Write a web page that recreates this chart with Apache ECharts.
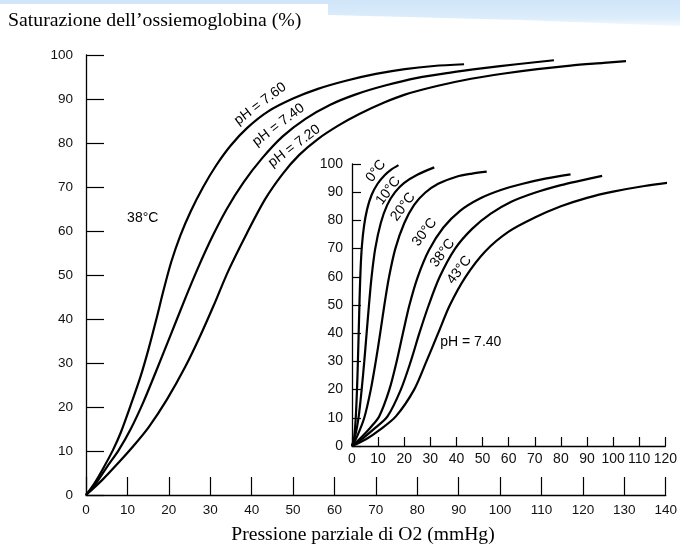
<!DOCTYPE html>
<html><head><meta charset="utf-8">
<script src="https://cdn.jsdelivr.net/npm/echarts@6/dist/echarts.min.js"></script>
<style>html,body{margin:0;padding:0;background:#fff}#c{width:680px;height:544px}</style>
</head><body><div id="c"></div>
<script>
// ---- Data ----
const titleText = 'Saturazione dell\u2019ossiemoglobina (%)';
const xAxisTitle = 'Pressione parziale di O2 (mmHg)';

// Main chart: O2 saturation (%) vs PO2 (mmHg) at 38°C for three pH values
const ph760 = [[0,0],[2,2.6],[4,5.8],[6.5,10.2],[8.4,14.2],[11.2,21.5],[13.2,27],[15.2,33.5],[17,40],[18.8,46.8],[20.6,53],[22.8,59],[25.3,64.5],[28.3,70],[31.5,75],[35,79.5],[39,83.5],[44,87.2],[50,90.1],[56,92.3],[63,94.2],[70,95.7],[77,96.8],[84,97.5],[91.3,97.9]];
const ph740 = [[0,0],[2.5,2.8],[5,6.3],[7.9,10.2],[10.8,15],[13.8,21],[17,28.3],[20.5,36.5],[23.8,44.3],[27,51.5],[30.4,58.5],[34,65],[38,71],[42.5,76.5],[47.5,81.5],[53,85.5],[59,88.7],[65,91],[72,93],[80,94.8],[88,96],[96,97],[104,97.9],[113,98.8]];
const ph720 = [[0,0],[4,3.5],[8,7.5],[11.5,11.2],[15.2,15.5],[19.6,21.8],[24,29.2],[27.6,36.2],[30.8,43],[34.4,51],[38.8,59.4],[43.3,67.3],[47.5,73],[51.5,77.3],[56,80.9],[61,84],[66,86.6],[72,89.2],[77,91],[85,93],[93,94.6],[101,95.8],[109,96.8],[117,97.6],[125,98.2],[130.4,98.6]];

// Inset: pH 7.40 at different temperatures
const t0  = [[0,0],[0.8,3],[1.3,8],[1.7,15],[2.1,25],[2.5,38],[2.9,52],[3.3,63],[3.8,71],[4.6,78],[5.8,84],[7.5,89],[9.8,93],[12.5,96],[15,98],[17.8,99.6]];
const t10 = [[0,0],[1.2,3.5],[2.5,10],[3.7,20],[4.7,30],[5.6,40],[6.5,50],[7.5,60],[8.9,70],[11,79],[13.5,85.5],[16.5,90],[20,93.3],[25,96.2],[31.5,98.8]];
const t20 = [[0,0],[2,3.5],[4.7,10],[7.2,20],[9.1,30],[10.8,40],[12.4,50],[14.2,60],[16.6,70],[20,79],[23.8,85.5],[28,89.8],[33,93],[40,95.5],[46,96.6],[51.6,97.3]];
const t30 = [[0,0],[3.5,3],[7,6.5],[10.4,10.5],[14.3,20],[17.1,30],[19.5,40],[22,50],[25.2,60],[29.5,69.5],[35,77.5],[41.5,83.5],[49,87.8],[57,90.8],[65,92.9],[74,94.8],[83.7,96.3]];
const t38 = [[0,0],[4.5,3],[9,6.5],[13.6,10.5],[18.7,20],[22.5,30],[25.8,40],[29.4,50],[33.6,60],[39.5,70],[46,77],[53,82.3],[61,86.6],[70,89.8],[80,92.5],[88,94.2],[95.8,95.8]];
const t43 = [[0,0],[5.5,2.5],[11,6],[16.8,10.5],[23.8,20],[28.5,30],[33,40],[37.5,50],[43.5,60],[51,69],[60,76],[70,81],[80,85],[90,88],[100,90.2],[112,92.2],[123.8,93.7]];

// Curve labels: [text, x, y, angleDeg]
const mainLabels = [['pH = 7.60', 42.1, 88.9, 37], ['pH = 7.40', 46.5, 84.1, 37], ['pH = 7.20', 50.3, 79.3, 37], ['38°C', 13.7, 63, 0]];
const insetLabels = [['0°C', 9.2, 97.5, 53], ['10°C', 13.9, 90.5, 53], ['20°C', 19.6, 84.8, 53], ['30°C', 27.8, 75.8, 53], ['38°C', 34.7, 68.4, 53], ['43°C', 41.1, 62.4, 53], ['pH = 7.40', 45.5, 36.8, 0]];

// ---- Chart ----
const chart = echarts.init(document.getElementById('c'), null, {renderer: 'canvas'});
const sansFont = '"Liberation Sans", Arial, sans-serif';
const serifFont = '"Liberation Serif", "Times New Roman", serif';
function axisCommon(min, max, tickLen, margin, fs) {
  return {
    type: 'value', min: min, max: max, interval: 10,
    axisLine: {show: true, onZero: false, lineStyle: {color: '#000', width: 1.3}},
    axisTick: {show: true, inside: true, length: tickLen, lineStyle: {color: '#000', width: 1.2}},
    axisLabel: {color: '#111', fontFamily: sansFont, fontSize: fs, margin: margin},
    splitLine: {show: false}
  };
}
function line(data, xi) {
  return {type: 'line', data: data, xAxisIndex: xi, yAxisIndex: xi, smooth: 0.3, showSymbol: false, symbol: 'none',
    lineStyle: {color: '#000', width: 2.2}, silent: true, animation: false};
}
chart.setOption({
  animation: false,
  backgroundColor: '#fff',
  grid: [
    {left: 86, top: 55, width: 583, height: 440},
    {left: 352, top: 164, width: 315, height: 282}
  ],
  xAxis: [Object.assign(axisCommon(0, 140, 18, 8, 13.5), {gridIndex: 0}), Object.assign(axisCommon(0, 120, 9, 6, 14), {gridIndex: 1})],
  yAxis: [Object.assign(axisCommon(0, 100, 18, 13, 13.5), {gridIndex: 0}), Object.assign(axisCommon(0, 100, 9, 9, 14), {gridIndex: 1})],
  series: [line(ph760, 0), line(ph740, 0), line(ph720, 0), line(t0, 1), line(t10, 1), line(t20, 1), line(t30, 1), line(t38, 1), line(t43, 1)]
});

const g = [];
g.push({type: 'polygon', silent: true, z: -10, shape: {points: [[0,0],[680,0],[680,26],[520,20],[330,15],[0,12]]},
  style: {fill: new echarts.graphic.LinearGradient(0, 0, 0, 1, [{offset: 0, color: '#cfe5f8'}, {offset: 0.7, color: '#dcedfb'}, {offset: 1, color: '#f3f9fe'}])}});
g.push({type: 'rect', silent: true, z: -9, shape: {x: 0, y: 4, width: 328, height: 44}, style: {fill: '#fff'}});
function txt(t, x, y, rot, font, align) {
  return {type: 'text', x: x, y: y, rotation: rot * Math.PI / 180, silent: true, z: 10,
    style: {text: t, font: font, fill: '#000', align: align || 'center', verticalAlign: 'middle', textAlign: align || 'center', textVerticalAlign: 'middle'}};
}
g.push(txt(titleText, 8, 21, 0, '19.8px ' + serifFont, 'left'));
g.push(txt(xAxisTitle, 363, 535, 0, '19.6px ' + serifFont, 'center'));
mainLabels.forEach(function (l) {
  const p = chart.convertToPixel({gridIndex: 0}, [l[1], l[2]]);
  g.push(txt(l[0], p[0], p[1], l[3], '14px ' + sansFont));
});
insetLabels.forEach(function (l) {
  const p = chart.convertToPixel({gridIndex: 1}, [l[1], l[2]]);
  g.push(txt(l[0], p[0], p[1], l[3], '14px ' + sansFont));
});
chart.setOption({graphic: g});
</script>
</body></html>
